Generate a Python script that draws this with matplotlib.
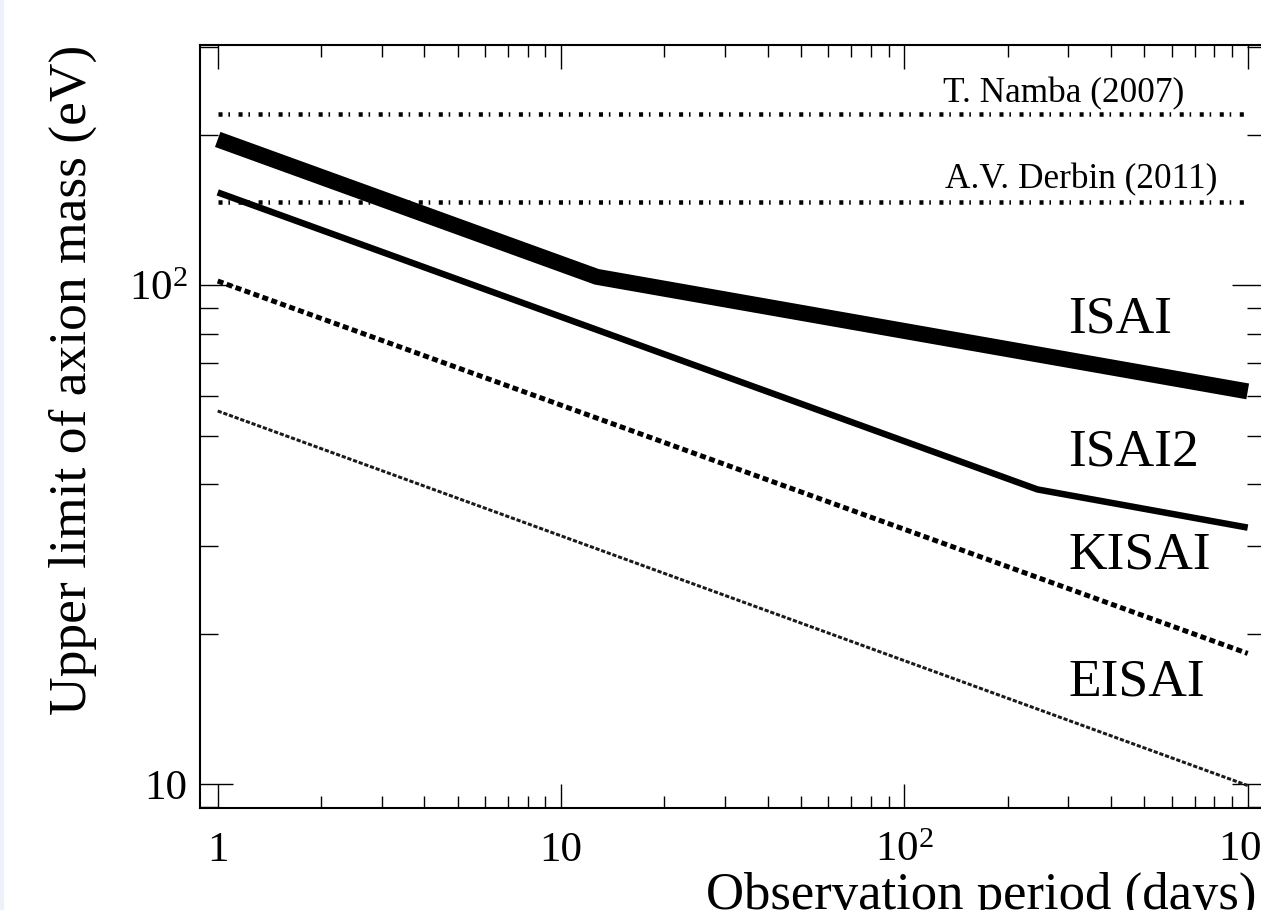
import matplotlib
matplotlib.use("Agg")
import matplotlib.pyplot as plt
from matplotlib.patches import Rectangle
from matplotlib.ticker import NullFormatter
import numpy as np

plt.rcParams['font.family'] = ['Liberation Serif', 'DejaVu Serif']
plt.rcParams['mathtext.fontset'] = 'custom'
plt.rcParams['mathtext.rm'] = 'Liberation Serif'
plt.rcParams['mathtext.it'] = 'Liberation Serif:italic'

# Upper limits vs observation period (days)
isai_days = [1, 12.7, 1000]
isai_mass = [196, 104, 61.3]
isai2_days = [1, 244, 1000]
isai2_mass = [153.5, 39.0, 32.7]
kisai_days = [1, 1000]
kisai_mass = [102, 18.3]
eisai_days = [1, 1000]
eisai_mass = [56, 9.95]
ref_days = [1, 1000]
namba_mass = 220
derbin_mass = 147

x_major = [1, 10, 100, 1000]
x_labels = ['1', '10', r'$\mathregular{10^{2}}$', r'$\mathregular{10^{3}}$']
y_major = [10, 100]
y_labels = ['10', r'$\mathregular{10^{2}}$']

fig = plt.figure(figsize=(12.61, 9.10), dpi=100)
fig.patches.append(Rectangle((0, 0), 3 / 1261, 1, transform=fig.transFigure,
                             color='#eef1fa', zorder=0))
# axes frame runs slightly past the right edge of the canvas, like the source crop
ax = fig.add_axes([200 / 1261, 1 - 808 / 910, 1065 / 1261, 763 / 910])
ax.set_xscale('log')
ax.set_yscale('log')
ax.set_xlim(0.888, 1123)
ax.set_ylim(8.97, 303)

px = 0.72  # points per pixel at dpi 100

ax.plot(ref_days, [namba_mass, namba_mass], color='black', lw=4.5 * px,
        linestyle=(0, (0.9, 1.3, 0.35, 1.9)))
ax.plot(ref_days, [derbin_mass, derbin_mass], color='black', lw=4.5 * px,
        linestyle=(0, (0.9, 1.3, 0.35, 1.9)))
ax.plot(isai_days, isai_mass, color='black', lw=16 * px, solid_capstyle='butt',
        solid_joinstyle='miter')
ax.plot(isai2_days, isai2_mass, color='black', lw=6.5 * px, solid_capstyle='butt')
ax.plot(kisai_days, kisai_mass, color='black', lw=5 * px, linestyle=(0, (1.2, 0.7)))
ax.plot(eisai_days, eisai_mass, color='#1a1a1a', lw=3 * px, linestyle=(0, (1.4, 0.6)))

ax.text(129.7, 232.8, 'T. Namba (2007)', fontsize=25.4, va='baseline', ha='left')
ax.text(131, 156.4, 'A.V. Derbin (2011)', fontsize=25.4, va='baseline', ha='left')
ax.text(300, 80.5, 'ISAI', fontsize=38.5, va='baseline', ha='left')
ax.text(300, 43.6, 'ISAI2', fontsize=38.5, va='baseline', ha='left')
ax.text(300, 27.1, 'KISAI', fontsize=38.5, va='baseline', ha='left')
ax.text(300, 15.1, 'EISAI', fontsize=38.5, va='baseline', ha='left')

ax.set_xticks(x_major)
ax.set_xticklabels(x_labels)
ax.set_xticks([m * d for d in [1, 10, 100] for m in range(2, 10)], minor=True)
ax.set_yticks(y_major)
ax.set_yticklabels(y_labels)
ax.set_yticks([m * d for d in [1, 10, 100] for m in range(2, 10)
               if 8.97 < m * d < 303], minor=True)
ax.xaxis.set_minor_formatter(NullFormatter())
ax.yaxis.set_minor_formatter(NullFormatter())

ax.tick_params(axis='both', which='both', direction='in', top=True, right=True,
               width=1.0, labelsize=31)
ax.tick_params(axis='x', which='major', length=24 * px, pad=17)
ax.tick_params(axis='x', which='minor', length=12 * px)
ax.tick_params(axis='y', which='major', length=33 * px, pad=9)
ax.tick_params(axis='y', which='minor', length=18 * px)
for s in ax.spines.values():
    s.set_linewidth(1.5)

ax.set_xlabel('Observation period (days)', fontsize=38, loc='right')
ax.xaxis.set_label_coords(1057 / 1065, -64 / 763)
ax.set_ylabel('Upper limit of axion mass (eV)', fontsize=38.5, loc='top')
ax.yaxis.set_label_coords(-103 / 1065, 1.0)

fig.savefig('out.png', dpi=100)
